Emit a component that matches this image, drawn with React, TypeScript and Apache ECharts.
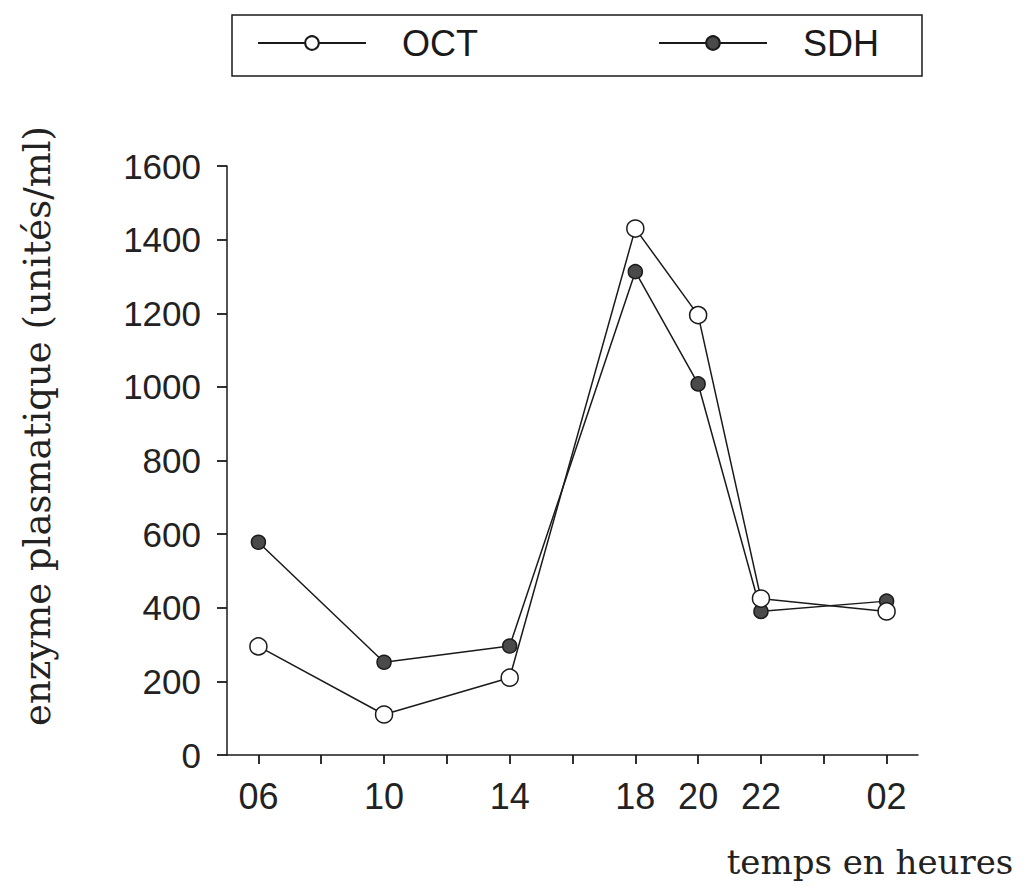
import React, { useEffect, useRef } from "react";
import * as echarts from "echarts";

// x axis: one category every two hours, 06 h to 02 h next day
const categories = ["06", "08", "10", "12", "14", "16", "18", "20", "22", "24", "02"];
const labelledHours = ["06", "10", "14", "18", "20", "22", "02"];
// sampling times and measured values (unités/ml)
const sampleHours = ["06", "10", "14", "18", "20", "22", "02"];
const octValues = [295, 110, 210, 1430, 1195, 425, 390];
const sdhValues = [578, 252, 296, 1313, 1008, 390, 418];
const yTitle = "enzyme plasmatique (unités/ml)";
const xTitle = "temps en heures";

const toSeries = (vals: number[]) =>
  categories.map((c) => {
    const i = sampleHours.indexOf(c);
    return i >= 0 ? vals[i] : null;
  });

export default function App() {
  const ref = useRef<HTMLDivElement>(null);
  useEffect(() => {
    if (!ref.current) return;
    const chart = echarts.init(ref.current, undefined, { renderer: "svg" });
    const ink = "#1a1a1a";
    const sans = "Liberation Sans";
    chart.setOption({
      animation: false,
      backgroundColor: "#ffffff",
      grid: { left: 227, right: 107, top: 166, bottom: 136 },
      legend: {
        left: 232,
        top: 15,
        orient: "horizontal",
        itemWidth: 108,
        itemHeight: 17,
        itemGap: 180,
        padding: [10, 43, 15, 25],
        borderColor: ink,
        borderWidth: 1.5,
        data: ["OCT", "SDH"],
        textStyle: { fontFamily: sans, fontSize: 36, color: ink, padding: [0, 0, 0, 31] },
      },
      xAxis: {
        type: "category",
        data: categories,
        boundaryGap: true,
        axisLine: { lineStyle: { color: ink, width: 1.5 } },
        axisTick: {
          show: true,
          interval: 0,
          alignWithLabel: true,
          length: 9,
          lineStyle: { color: ink, width: 1.8 },
        },
        axisLabel: {
          interval: 0,
          margin: 23,
          fontFamily: sans,
          fontSize: 36,
          color: "#222",
          formatter: (v: string) => (labelledHours.indexOf(v) >= 0 ? v : ""),
        },
        splitLine: { show: false },
      },
      yAxis: {
        type: "value",
        min: 0,
        max: 1600,
        interval: 200,
        axisLine: { show: true, lineStyle: { color: ink, width: 1.5 } },
        axisTick: { show: true, length: 10, lineStyle: { color: ink, width: 1.8 } },
        axisLabel: {
          margin: 26,
          fontFamily: sans,
          fontSize: 35,
          color: "#222",
          formatter: (v: number) => String(v),
        },
        splitLine: { show: false },
      },
      graphic: [
        {
          type: "text",
          x: 37,
          y: 426,
          rotation: Math.PI / 2,
          style: {
            text: yTitle,
            fontFamily: "DejaVu Serif",
            fontSize: 37,
            fill: "#222",
            align: "center",
            verticalAlign: "middle",
          },
        },
        {
          type: "text",
          x: 870,
          y: 862,
          style: {
            text: xTitle,
            fontFamily: "DejaVu Serif",
            fontSize: 34,
            fill: "#222",
            align: "center",
            verticalAlign: "middle",
          },
        },
      ],
      series: [
        {
          name: "SDH",
          type: "line",
          data: toSeries(sdhValues),
          connectNulls: true,
          symbol: "circle",
          symbolSize: 14,
          lineStyle: { color: ink, width: 1.5 },
          itemStyle: { color: "#4a4a4a", borderColor: ink, borderWidth: 1.5 },
        },
        {
          name: "OCT",
          type: "line",
          data: toSeries(octValues),
          connectNulls: true,
          symbol: "circle",
          symbolSize: 17,
          lineStyle: { color: ink, width: 1.5 },
          itemStyle: { color: "#ffffff", borderColor: ink, borderWidth: 1.5 },
        },
      ],
    });
    return () => chart.dispose();
  }, []);
  return (
    <div
      ref={ref}
      style={{ position: "absolute", left: 0, top: 0, width: 1025, height: 891 }}
    />
  );
}
